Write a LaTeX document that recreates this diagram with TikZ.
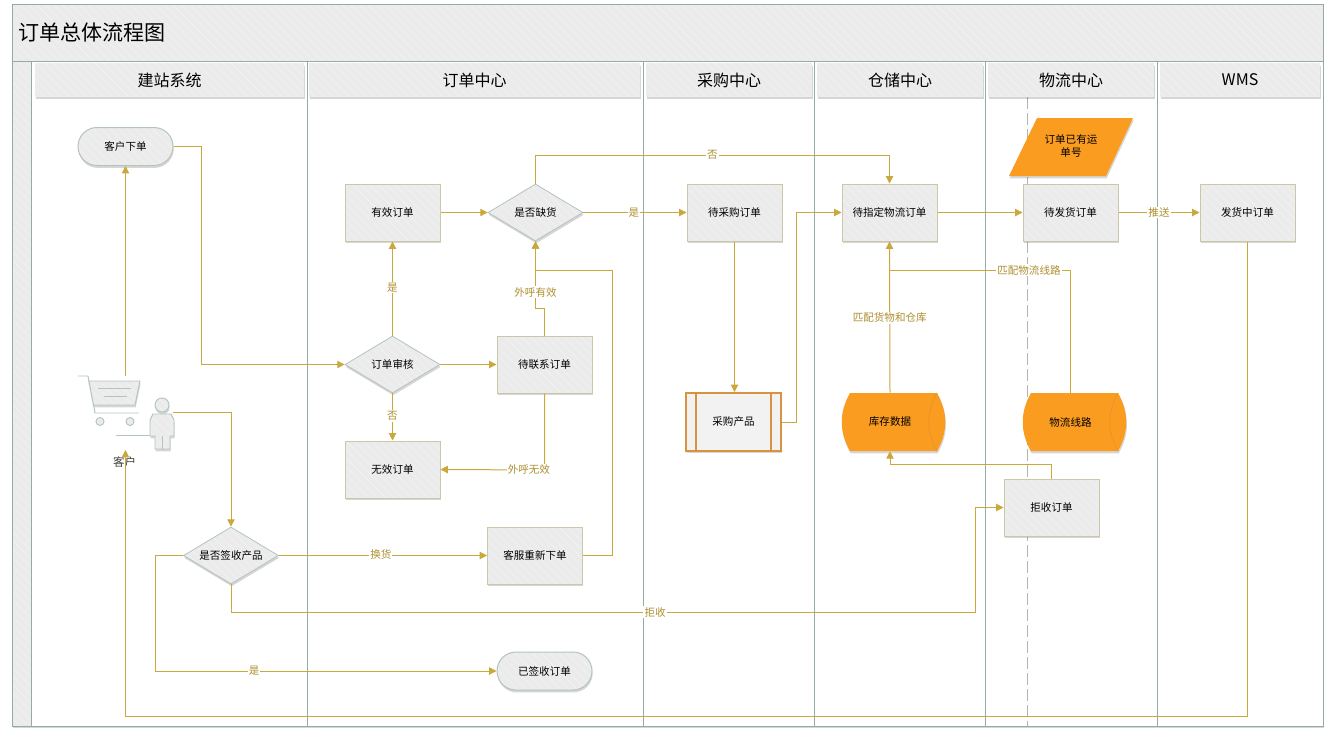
\documentclass[tikz,border=0pt]{standalone}
\usepackage{fontspec}
\setmainfont{Noto Sans CJK SC}
\usetikzlibrary{arrows.meta,shapes.geometric,shapes.misc,shadows,patterns.meta,calc}
\definecolor{conn}{HTML}{C9A83C}
\definecolor{frame}{HTML}{93ADA5}
\definecolor{paper}{HTML}{EBEBEB}
\definecolor{stripe}{HTML}{F3F3F3}
\definecolor{boxline}{HTML}{CDC7A8}
\definecolor{lab}{HTML}{AD8F2F}
\definecolor{orangefill}{HTML}{FA9C1F}
\definecolor{orangeline}{HTML}{E8952A}
\definecolor{procline}{HTML}{D9923F}
\definecolor{iconline}{HTML}{B4C4BD}
\tikzset{
  hatch/.style={preaction={fill=paper},preaction={pattern={Lines[angle=-45,distance=4.5pt,line width=.45pt]},pattern color=stripe}},
  shade/.style={general shadow={shadow xshift=.5pt,shadow yshift=-1.8pt,fill=black,opacity=.16}},
  small/.style={font=\fontsize{7.9}{10}\selectfont,text=black,align=center},
  boxnode/.style={small,shape=rectangle,shade,hatch,draw=boxline,line width=.75pt,minimum width=71.25pt,minimum height=42.75pt,inner sep=0pt},
  dianode/.style={small,shape=diamond,shade,hatch,draw=iconline,line width=.6pt,minimum width=71.25pt,minimum height=42.75pt,inner sep=0pt,shape aspect=1.67},
  pillnode/.style={small,shape=rounded rectangle,shade,hatch,draw=iconline,line width=.75pt,minimum width=71.25pt,minimum height=28.5pt,inner sep=0pt},
  procnode/.style={small,shape=rectangle,shade,draw=procline,line width=1.5pt,fill=black!5,minimum width=71.25pt,minimum height=43.5pt,inner sep=0pt},
  textnode/.style={small,minimum width=71.25pt,minimum height=43.5pt,inner sep=0pt},
  link/.style={draw=conn,line width=.75pt},
  flow/.style={link,-{Triangle[length=5.5pt,width=5.5pt,fill=conn]}},
  edgelab/.style={font=\fontsize{7.9}{10}\selectfont,text=lab,fill=white,inner sep=.8pt},
  lane/.style={draw=frame,line width=.75pt},
  head/.style={font=\fontsize{12}{14}\selectfont,text=black,shape=rectangle,shade,hatch,minimum height=25pt,inner sep=0pt},
  orangeblob/.style={shade,fill=orangefill},
  iconstroke/.style={draw=iconline,line width=.7pt}
}
\newcommand{\cylblob}[1]{%
  \begin{scope}[xshift=#1*.75pt]
    \path[orangeblob] (850,393) -- (937,393) .. controls (948,412) and (948,432) .. (937,451)
      -- (850,451) .. controls (839,432) and (839,412) .. (850,393) -- cycle;
    \draw[orangeline,line width=.6pt] (937,393) .. controls (926,412) and (926,432) .. (937,451);
  \end{scope}}
\begin{document}
\begin{tikzpicture}[x=.75pt,y=-.75pt]
\useasboundingbox (0,0) rectangle (1335,740);
% frame
\path[shade,fill=white] (12,4) rectangle (1323,726);
\path[hatch] (12,4) rectangle (1323,61);
\path[hatch] (12,61) rectangle (31,726);
\draw[lane] (12,4) rectangle (1323,726);
\draw[lane] (12,61) -- (1323,61);
\foreach \lx in {31,307,643,814,985,1157}{\draw[lane] (\lx,61) -- (\lx,726);}
\draw[draw=black!30,line width=.8pt,dash pattern=on 9pt off 3pt] (1027.5,97) -- (1027.5,726);
\node[anchor=west,font=\fontsize{15.8}{18}\selectfont,text=black,inner sep=0pt] (title) at (18,32) {订单总体流程图};
% headers
\node[head,minimum width=201.75pt] (h1) at (169.5,80) {建站系统};
\node[head,minimum width=248.25pt] (h2) at (474.5,80) {订单中心};
\node[head,minimum width=124.5pt] (h3) at (729,80) {采购中心};
\node[head,minimum width=124.5pt] (h4) at (900,80) {仓储中心};
\node[head,minimum width=124.5pt] (h5) at (1071,80) {物流中心};
\node[head,minimum width=120pt] (h6) at (1240,80) {WMS};
% customer icon
\path[shade,hatch] (88,381) -- (140,381) -- (135,405) -- (93,405) -- cycle;
\draw[iconstroke] (88,381) -- (140,381) -- (135,405) -- (93,405);
\draw[iconstroke] (78,376) -- (88,376) -- (95,413) -- (139,413);
\draw[iconstroke] (98,388) -- (131,388) (104,396) -- (127,396);
\draw[iconstroke,fill=paper] (100,421.5) circle (4);
\draw[iconstroke,fill=paper] (130,421.5) circle (4);
\draw[shade,hatch,iconstroke] (162,405) circle (7);
\draw[shade,hatch,iconstroke] (150,420) -- (153,414) -- (171,414) -- (174,420) -- (174,436) -- (170,436) -- (170,449) -- (155,449) -- (155,436) -- (150,436) -- cycle;
\draw[iconstroke] (162,436) -- (162,449);
\draw[iconstroke] (116,435.5) -- (150,435.5);
\coordinate (cartTop) at (125.5,376);
\coordinate (personRight) at (173,412);
\coordinate (custBottom) at (125.5,450);
% orange shapes
\path[orangeblob] (1037,118) -- (1133,118) -- (1106,176) -- (1009,176) -- cycle;
\cylblob{0}
\cylblob{181}
% nodes
\node[pillnode] (kehu) at (125.5,146.5) {客户下单};
\node[boxnode] (youxiao) at (392.5,212.5) {有效订单};
\node[dianode] (quehuo) at (535.5,212.5) {是否缺货};
\node[boxnode] (caigou) at (734.5,212.5) {待采购订单};
\node[boxnode] (zhiding) at (889.5,212.5) {待指定物流订单};
\node[boxnode] (fahuo) at (1070.5,212.5) {待发货订单};
\node[boxnode] (fazhong) at (1247.5,212.5) {发货中订单};
\node[dianode] (shenhe) at (392.5,364.5) {订单审核};
\node[boxnode] (lianxi) at (544.5,364.5) {待联系订单};
\node[boxnode] (wuxiao) at (392.5,469.5) {无效订单};
\node[procnode] (chanpin) at (733.5,422) {采购产品};
\draw[procline,line width=1.5pt] ($(chanpin.north west)+(11,0)$) -- ($(chanpin.south west)+(11,0)$);
\draw[procline,line width=1.5pt] ($(chanpin.north east)+(-11,0)$) -- ($(chanpin.south east)+(-11,0)$);
\node[textnode] (kucun) at (890,422) {库存数据};
\node[textnode] (xianlu) at (1070.5,422) {物流线路};
\node[boxnode] (jushou) at (1051.5,507.5) {拒收订单};
\node[dianode] (qianshou) at (231,555.5) {是否签收产品};
\node[boxnode] (chongxin) at (535,555.5) {客服重新下单};
\node[pillnode] (yiqian) at (544.5,671) {已签收订单};
\node[textnode] (yundan) at (1071,146) {订单已有运\\单号};
\node[font=\fontsize{8.6}{10}\selectfont,text=black!75,inner sep=0pt] (kehulab) at (124.5,462) {客户};
% connectors
\draw[flow] (cartTop) -- (kehu.south);
\draw[flow] (kehu.east) -- ++(28,0) |- (shenhe.west);
\draw[flow] (personRight) -| (qianshou.north);
\draw[flow] (qianshou.east) -- node[edgelab,pos=.49,yshift=.5pt]{换货} (chongxin.west);
\draw[flow] (qianshou.west) -- ++(-28,0) -- ++(0,115.5) -- node[edgelab,pos=.29]{是} (yiqian.west);
\draw[flow] (qianshou.south) -- ++(0,28) -- node[edgelab,pos=.57]{拒收} ++(744,0) |- (jushou.west);
\draw[flow] (chongxin.east) -- ++(29,0) -- ++(0,-285.5) -- (quehuo.south |- 0,270) -- (quehuo.south);
\draw[flow] (lianxi.north) -- ++(0,-27) -- ++(-9,0) -- node[edgelab,pos=.24]{外呼有效} (quehuo.south);
\draw[flow] (lianxi.south) -- ++(0,76.5) -- node[edgelab,pos=.15]{外呼无效} (wuxiao.east);
\draw[flow] (shenhe.north) -- node[edgelab,pos=.51]{是} (youxiao.south);
\draw[flow] (shenhe.south) -- node[edgelab,pos=.48]{否} (wuxiao.north);
\draw[flow] (shenhe.east) -- (lianxi.west);
\draw[flow] (youxiao.east) -- (quehuo.west);
\draw[flow] (quehuo.east) -- node[edgelab,pos=.49]{是} (caigou.west);
\draw[flow] (quehuo.north) -- ++(0,-28.5) -- node[edgelab,pos=.5]{否} ++(354,0) -- (zhiding.north);
\draw[flow] (caigou.south) -- (caigou.south |- chanpin.north);
\draw[flow] (chanpin.east) -- ++(14,0) |- (zhiding.west);
\draw[flow] (zhiding.east) -- (fahuo.west);
\draw[flow] (fahuo.east) -- node[edgelab,pos=.5]{推送} (fazhong.west);
\draw[flow] (kucun.north) -- node[edgelab,pos=.5,yshift=-.6pt]{匹配货物和仓库} (zhiding.south);
\draw[link] (xianlu.north) -- ++(0,-122.5) -- node[edgelab,pos=.23]{匹配物流线路} ++(-180.5,0);
\draw[flow] (jushou.north) -- ++(0,-14) -- ++(-161.5,0) -- (kucun.south);
\draw[flow] (fazhong.south) -- ++(0,475) -- ++(-1122,0) -- (custBottom);
\end{tikzpicture}
\end{document}
